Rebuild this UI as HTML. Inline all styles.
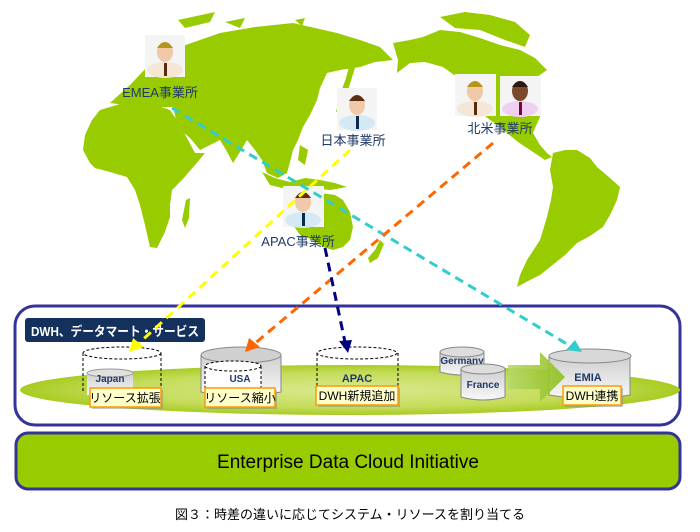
<!DOCTYPE html>
<html><head><meta charset="utf-8"><style>
html,body{margin:0;padding:0;background:#fff;width:700px;height:532px;overflow:hidden}
svg{display:block}
text{font-family:"Liberation Sans","Noto Sans CJK JP",sans-serif}
</style></head><body>
<svg width="700" height="532" viewBox="0 0 700 532" xmlns="http://www.w3.org/2000/svg">
<defs>
<radialGradient id="el" cx="50%" cy="50%" r="50%">
<stop offset="0" stop-color="#dbe98f"/><stop offset="0.7" stop-color="#c4dc5a"/><stop offset="1" stop-color="#a8cc22"/></radialGradient>
<linearGradient id="cyl" x1="0" x2="0" y1="0" y2="1"><stop offset="0" stop-color="#cfcfcf"/><stop offset="1" stop-color="#f8f8f8"/></linearGradient>
<linearGradient id="ar" x1="0" x2="1"><stop offset="0" stop-color="#b8d86a"/><stop offset="1" stop-color="#8fbf1a"/></linearGradient>
</defs>
<g fill="#99cc00">
<!-- Eurasia -->
<path d="M110,103 L130,85 L147,67 L165,55 L180,47 L200,40 L220,33 L255,27 L293,23 L315,28 L337,33 L360,40 L380,47 L393,60 L375,62 L360,67 L340,70 L327,73 L320,88 L317,100 L310,115 L303,127 L298,140 L293,150 L290,162 L287,173 L278,178 L267,173 L262,160 L255,150 L247,140 L240,152 L233,163 L226,150 L220,140 L210,145 L200,150 L190,138 L177,127 L175,115 L173,107 L160,107 L153,107 L140,104 L125,105 Z"/>
<path d="M178,20 L215,12 L210,22 L185,28 Z M225,22 L245,18 L240,28 Z M295,20 L305,18 L302,26 Z"/>
<!-- Japan -->
<path d="M350,63 L355,68 L348,90 L343,110 L336,112 L340,95 L346,78 Z"/>
<!-- Africa -->
<path d="M100,110 L120,104 L137,100 L155,105 L170,110 L180,125 L188,140 L195,153 L205,153 L195,165 L182,180 L172,190 L170,205 L170,217 L165,232 L157,248 L150,247 L145,225 L140,205 L135,190 L127,177 L110,172 L95,168 L90,163 L83,150 L85,135 L92,120 Z"/>
<path d="M186,200 L190,198 L189,218 L185,228 L182,220 Z"/>
<!-- Indonesia / SE Asia -->
<path d="M262,172 L275,178 L290,182 L305,178 L320,180 L335,183 L347,187 L330,190 L310,188 L290,190 L270,185 Z"/>
<path d="M300,145 L308,150 L305,165 L298,160 Z"/>
<!-- Australia -->
<path d="M293,207 L305,198 L320,193 L335,195 L343,200 L350,212 L353,227 L350,240 L343,247 L333,250 L323,247 L313,240 L300,235 L293,225 Z"/>
<path d="M380,240 L384,244 L378,258 L370,263 L368,258 L375,250 Z"/>
<!-- North America -->
<path d="M393,43 L410,40 L423,37 L440,30 L460,32 L480,38 L500,45 L520,50 L535,58 L547,70 L537,77 L540,95 L540,117 L535,128 L533,133 L540,145 L547,153 L552,157 L545,160 L530,150 L518,142 L507,133 L498,125 L490,120 L478,110 L468,95 L457,77 L443,67 L425,62 L410,63 L397,73 L398,60 Z"/>
<path d="M440,17 L465,12 L490,15 L515,22 L530,35 L525,47 L505,40 L480,30 L455,28 Z"/>
<!-- South America -->
<path d="M553,153 L565,150 L577,150 L590,158 L597,167 L610,178 L620,187 L617,200 L610,215 L603,227 L590,236 L577,243 L565,255 L550,267 L540,275 L530,280 L517,287 L520,275 L527,260 L540,240 L547,217 L551,200 L553,187 L550,170 Z"/>
</g>
<!-- people -->
<g>
<rect x="145" y="35" width="40" height="42" fill="#f4f4f4"/>
<ellipse cx="165" cy="70" rx="18" ry="8" fill="#f6e6d6"/><ellipse cx="165" cy="52" rx="8" ry="10" fill="#f0c9a8"/><path d="M157,48 Q165,36 173,48 Z" fill="#b5951a"/><path d="M164,63 L167,63 L167,76 L164,76Z" fill="#5a2a0a"/>
<rect x="337" y="88" width="40" height="42" fill="#f4f4f4"/>
<ellipse cx="357" cy="123" rx="18" ry="8" fill="#d5e9f5"/><ellipse cx="357" cy="105" rx="8" ry="10" fill="#f0c9a8"/><path d="M349,101 Q357,89 365,101 Z" fill="#5a3010"/><path d="M356,116 L359,116 L359,129 L356,129Z" fill="#0a2a50"/>
<rect x="283" y="186" width="41" height="41" fill="#f4f4f4"/>
<ellipse cx="303" cy="220" rx="18" ry="8" fill="#d5e9f5"/><ellipse cx="303" cy="202" rx="8" ry="10" fill="#f0c9a8"/><path d="M295,198 Q303,186 311,198 Z" fill="#5a3010"/><path d="M302,213 L305,213 L305,226 L302,226Z" fill="#0a2a50"/>
<rect x="455" y="74" width="41" height="42" fill="#f4f4f4"/>
<ellipse cx="475" cy="109" rx="18" ry="8" fill="#f6e6d6"/><ellipse cx="475" cy="91" rx="8" ry="10" fill="#f0c9a8"/><path d="M467,87 Q475,75 483,87 Z" fill="#b5951a"/><path d="M474,102 L477,102 L477,115 L474,115Z" fill="#5a2a0a"/>
<rect x="500" y="76" width="41" height="40" fill="#f4f4f4"/>
<ellipse cx="520" cy="109" rx="18" ry="8" fill="#f0d0f0"/><ellipse cx="520" cy="91" rx="8" ry="10" fill="#7a4a2a"/><path d="M512,87 Q520,75 528,87 Z" fill="#2a1a10"/><path d="M519,102 L522,102 L522,115 L519,115Z" fill="#800040"/>
</g>
<g font-size="13" fill="#1f3a68" text-anchor="middle">
<text x="160" y="97">EMEA事業所</text>
<text x="353" y="145">日本事業所</text>
<text x="298" y="246">APAC事業所</text>
<text x="500" y="133">北米事業所</text>
</g>
<!-- bottom panel -->
<rect x="15" y="306" width="665" height="119" rx="20" fill="#fff" stroke="#333399" stroke-width="3"/>
<ellipse cx="350" cy="390" rx="330" ry="25" fill="url(#el)"/>
<rect x="25" y="318" width="180" height="24" rx="3" fill="#13315c"/>
<text x="31" y="336" font-size="13" fill="#fff" font-weight="bold" textLength="168" lengthAdjust="spacingAndGlyphs">DWH、データマート・サービス</text>
<!-- Japan -->
<g>
<path d="M83,353 L83,392 M161,353 L161,392" stroke="#000" stroke-dasharray="3,2" fill="none"/>
<ellipse cx="122" cy="353" rx="39" ry="6" fill="none" stroke="#000" stroke-dasharray="3,2"/>
<path d="M87,373 L87,395 L133,395 L133,373 Z" fill="url(#cyl)"/><ellipse cx="110" cy="373" rx="23" ry="4" fill="#e0e0e0" stroke="#999"/>
<text x="110" y="382" font-size="10" font-weight="bold" fill="#1f3a68" text-anchor="middle">Japan</text>
</g>
<!-- USA -->
<g>
<path d="M201,355 L201,392 Q241,400 281,392 L281,355 Z" fill="url(#cyl)" stroke="#888"/>
<ellipse cx="241" cy="355" rx="40" ry="8" fill="#d0d0d0" stroke="#888"/>
<path d="M205,366 L205,392 L261,392 L261,366" fill="#fff" stroke="#000" stroke-dasharray="3,2"/>
<ellipse cx="233" cy="366" rx="28" ry="5" fill="#fff" stroke="#000" stroke-dasharray="3,2"/>
<text x="240" y="382" font-size="10" font-weight="bold" fill="#1f3a68" text-anchor="middle">USA</text>
</g>
<!-- APAC -->
<g>
<path d="M317,353 L317,392 M398,353 L398,392" stroke="#000" stroke-dasharray="3,2" fill="none"/>
<ellipse cx="357" cy="353" rx="40" ry="6" fill="none" stroke="#000" stroke-dasharray="3,2"/>
<text x="357" y="382" font-size="11" font-weight="bold" fill="#1f3a68" text-anchor="middle">APAC</text>
</g>
<!-- Germany France -->
<path d="M440,352 L440,372 Q462,378 484,372 L484,352 Z" fill="url(#cyl)" stroke="#888"/>
<ellipse cx="462" cy="352" rx="22" ry="5" fill="#ddd" stroke="#888"/>
<text x="462" y="364" font-size="10" font-weight="bold" fill="#1f3a68" text-anchor="middle">Germany</text>
<path d="M461,369 L461,397 Q483,403 505,397 L505,369 Z" fill="url(#cyl)" stroke="#888"/>
<ellipse cx="483" cy="369" rx="22" ry="5" fill="#ddd" stroke="#888"/>
<text x="483" y="388" font-size="10" font-weight="bold" fill="#1f3a68" text-anchor="middle">France</text>
<!-- EMIA -->
<path d="M549,356 L549,395 Q590,402 630,395 L630,356 Z" fill="url(#cyl)" stroke="#888"/>
<ellipse cx="590" cy="356" rx="41" ry="7" fill="#d8d8d8" stroke="#888"/>
<text x="588" y="381" font-size="11" font-weight="bold" fill="#1f3a68" text-anchor="middle">EMIA</text>
<!-- arrow -->
<path d="M508,365 L540,365 L540,352 L565,377 L540,402 L540,389 L508,389 Z" fill="url(#ar)" opacity="0.9"/>
<!-- label boxes -->
<g font-size="12" fill="#000" text-anchor="middle">
<rect x="92" y="390" width="71" height="19" fill="#888" opacity="0.5"/>
<rect x="90" y="388" width="71" height="19" fill="#ffffcc" stroke="#ff9900" stroke-width="1.5"/>
<text x="125" y="402">リソース拡張</text>
<rect x="207" y="390" width="70" height="19" fill="#888" opacity="0.5"/>
<rect x="205" y="388" width="70" height="19" fill="#ffffcc" stroke="#ff9900" stroke-width="1.5"/>
<text x="240" y="402">リソース縮小</text>
<rect x="318" y="388" width="82" height="19" fill="#888" opacity="0.5"/>
<rect x="316" y="386" width="82" height="19" fill="#ffffcc" stroke="#ff9900" stroke-width="1.5"/>
<text x="357" y="400">DWH新規追加</text>
<rect x="565" y="388" width="58" height="19" fill="#888" opacity="0.5"/>
<rect x="563" y="386" width="58" height="19" fill="#ffffcc" stroke="#ff9900" stroke-width="1.5"/>
<text x="592" y="400">DWH連携</text>
</g>
<!-- dashed connectors -->
<g fill="none" stroke-width="3" stroke-dasharray="9,6">
<line x1="172" y1="108" x2="572" y2="347" stroke="#33cccc"/>
<line x1="350" y1="150" x2="137" y2="345" stroke="#ffff00"/>
<line x1="493" y1="143" x2="253" y2="345" stroke="#ff6600"/>
<line x1="325" y1="248" x2="345" y2="342" stroke="#000080"/>
</g>
<path d="M582,352 L566,350 L575,340 Z" fill="#33cccc"/>
<path d="M129,352 L133,338 L144,347 Z" fill="#ffff00"/>
<path d="M245,352 L249,338 L260,347 Z" fill="#ff6600"/>
<path d="M348,353 L339,341 L352,340 Z" fill="#000080"/>
<!-- enterprise -->
<rect x="16" y="433" width="664" height="56" rx="12" fill="#99cc00" stroke="#333399" stroke-width="3"/>
<text x="348" y="468" font-size="19" text-anchor="middle" fill="#000">Enterprise Data Cloud Initiative</text>
<text x="350" y="519" font-size="13" text-anchor="middle" fill="#000">図３：時差の違いに応じてシステム・リソースを割り当てる</text>
</svg>
</body></html>
